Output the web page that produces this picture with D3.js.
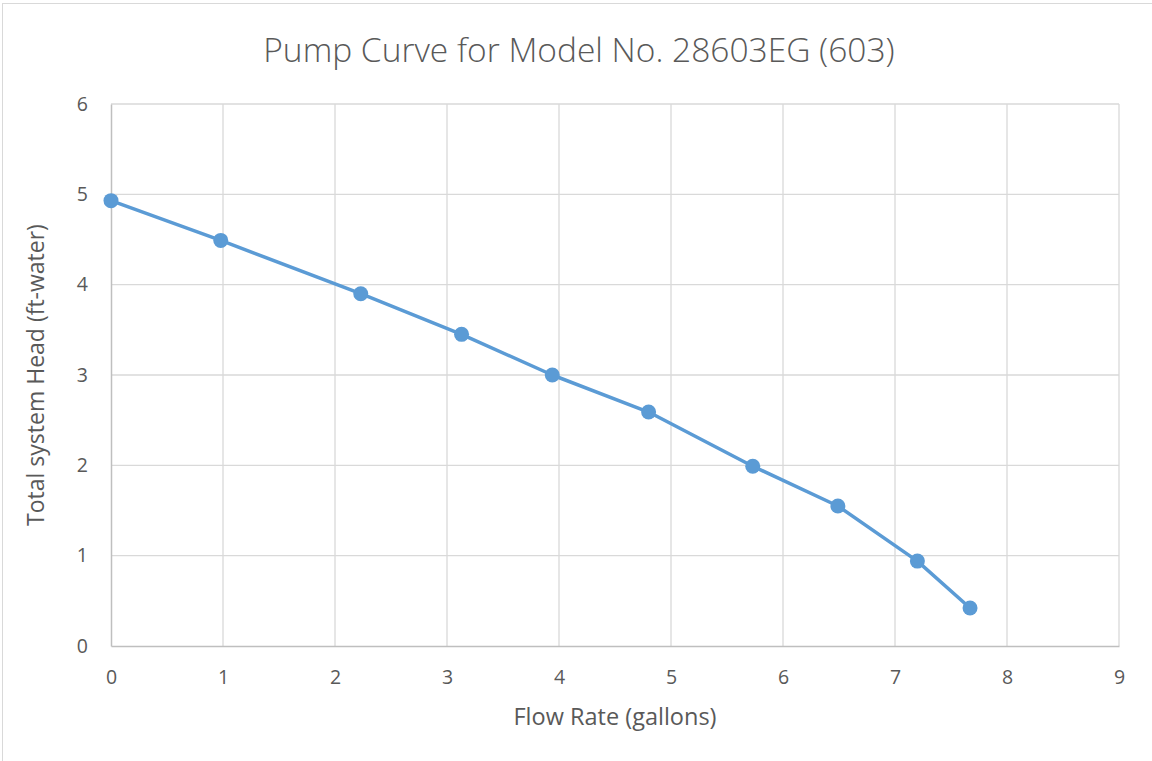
<!DOCTYPE html>
<html>
<head>
<meta charset="utf-8">
<script src="https://cdn.jsdelivr.net/npm/d3@7"></script>
<style>
  body { margin: 0; background: #fff; }
  text { font-family: "Open Sans", "Noto Sans", sans-serif; fill: #595959; }
</style>
</head>
<body>
<div id="chart"></div>
<script>
// Flow rate (gallons) vs total system head (ft-water)
const flowRate = [0, 0.98, 2.23, 3.13, 3.94, 4.80, 5.73, 6.49, 7.20, 7.67];
const head = [4.93, 4.49, 3.90, 3.45, 3.00, 2.59, 1.99, 1.55, 0.94, 0.42];
const xTicks = [0, 1, 2, 3, 4, 5, 6, 7, 8, 9];
const yTicks = [0, 1, 2, 3, 4, 5, 6];

const data = flowRate.map((f, i) => ({x: f, y: head[i]}));

const W = 1152, H = 761;
const margin = {top: 104, right: 33, bottom: 115, left: 111};
const width = W - margin.left - margin.right,
      height = H - margin.top - margin.bottom;

const svg = d3.select("#chart").append("svg")
    .attr("width", W)
    .attr("height", H);

// chart border
svg.append("rect")
    .attr("x", 2.5).attr("y", 3.5)
    .attr("width", W + 10).attr("height", H + 10)
    .attr("fill", "none")
    .attr("stroke", "#d9d9d9");

const g = svg.append("g")
    .attr("transform", "translate(" + margin.left + "," + margin.top + ")");

const x = d3.scaleLinear().domain([0, 9]).range([0, width]);
const y = d3.scaleLinear().domain([0, 6]).range([height, 0]);

// gridlines
g.append("g").selectAll("line")
    .data(xTicks.slice(1))
    .enter().append("line")
      .attr("x1", d => x(d)).attr("x2", d => x(d))
      .attr("y1", 0).attr("y2", height)
      .attr("stroke", "#d9d9d9").attr("stroke-width", 1.3);

g.append("g").selectAll("line")
    .data(yTicks.slice(1))
    .enter().append("line")
      .attr("x1", 0).attr("x2", width)
      .attr("y1", d => y(d)).attr("y2", d => y(d))
      .attr("stroke", "#d9d9d9").attr("stroke-width", 1.3);

// axes
const xAxis = d3.axisBottom(x).tickValues(xTicks).tickFormat(d3.format("d")).tickSize(0).tickPadding(24);
const yAxis = d3.axisLeft(y).tickValues(yTicks).tickFormat(d3.format("d")).tickSize(0).tickPadding(23);

const gx = g.append("g")
    .attr("class", "x axis")
    .attr("transform", "translate(0," + height + ")")
    .call(xAxis)
    .attr("font-family", null).attr("font-size", null);
gx.select(".domain").attr("stroke", "#bfbfbf").attr("stroke-width", 1.5);
gx.selectAll("text").style("font-size", "19.5px").style("fill", "#595959");

const gy = g.append("g")
    .attr("class", "y axis")
    .call(yAxis)
    .attr("font-family", null).attr("font-size", null);
gy.select(".domain").attr("stroke", "#bfbfbf").attr("stroke-width", 1.5);
gy.selectAll("text").style("font-size", "19.5px").style("fill", "#595959");

// line + markers
const line = d3.line()
    .x(d => x(d.x))
    .y(d => y(d.y));

g.append("path")
    .datum(data)
    .attr("fill", "none")
    .attr("stroke", "#5b9bd5")
    .attr("stroke-width", 3.5)
    .attr("stroke-linejoin", "round")
    .attr("d", line);

g.selectAll(".dot")
    .data(data)
    .enter().append("circle")
      .attr("class", "dot")
      .attr("cx", d => x(d.x))
      .attr("cy", d => y(d.y))
      .attr("r", 7.5)
      .attr("fill", "#5b9bd5");

// titles
svg.append("text")
    .attr("x", 579).attr("y", 62)
    .attr("text-anchor", "middle")
    .style("font-size", "33.5px")
    .style("font-weight", 300)
    .text("Pump Curve for Model No. 28603EG (603)");

svg.append("text")
    .attr("x", margin.left + width / 2).attr("y", 725)
    .attr("text-anchor", "middle")
    .style("font-size", "23.5px")
    .text("Flow Rate (gallons)");

svg.append("text")
    .attr("transform", "translate(44," + (margin.top + height / 2) + ") rotate(-90)")
    .attr("text-anchor", "middle")
    .style("font-size", "23px")
    .text("Total system Head (ft-water)");
</script>
</body>
</html>
